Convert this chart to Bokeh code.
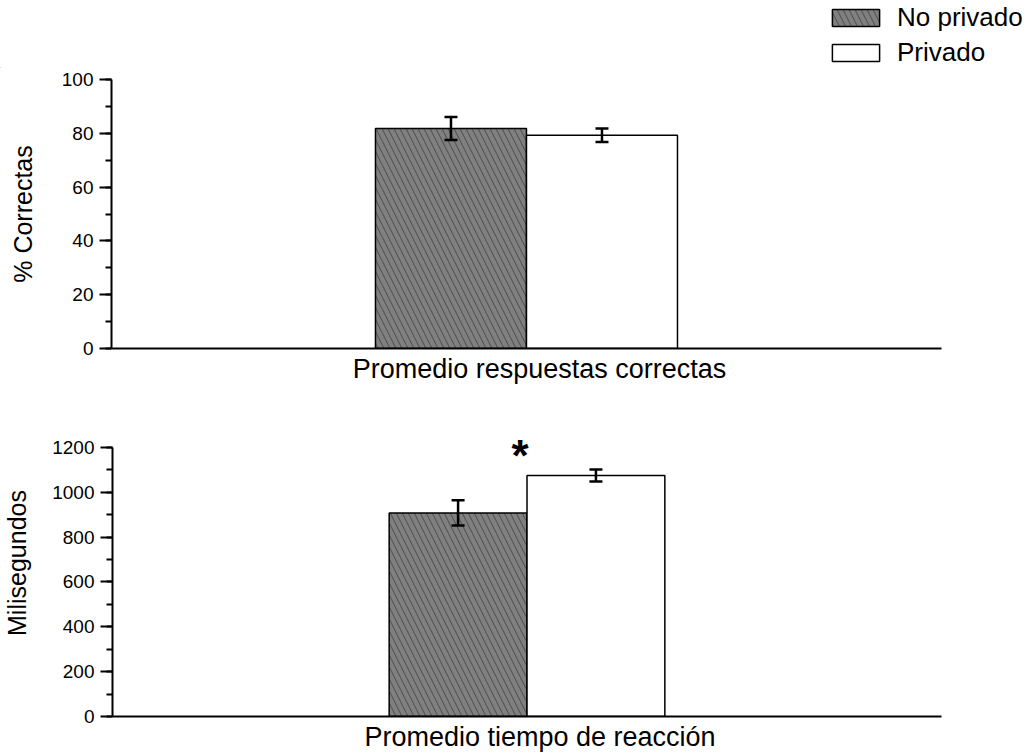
from bokeh.plotting import figure
from bokeh.layouts import column
from bokeh.models import (ColumnDataSource, Range1d, SingleIntervalTicker, FixedTicker,
                          Whisker, TeeHead, Legend, LegendItem)
from bokeh.core.properties import value
from bokeh.embed import file_html
from bokeh.resources import INLINE

# ---- data ----
groups = ["No privado", "Privado"]
correct_mean = [81.8, 79.3]        # % correct answers
correct_err = [4.3, 2.5]
rt_mean = [908, 1075]              # reaction time, ms
rt_err = [56, 27]

FONT = "Liberation Sans"
DARK = "#808080"
HATCH = "#555555"
W = 1029


def make_source(means, errs):
    return ColumnDataSource(dict(
        x=[0, 1],
        top=means,
        upper=[m + e for m, e in zip(means, errs)],
        lower=[m - e for m, e in zip(means, errs)],
        fill=[DARK, "white"],
        hatch=["\\", " "],
        group=groups,
    ))


BAR_STYLE = dict(fill_color="fill", line_color="black", line_width=1.5,
                 hatch_pattern="hatch", hatch_color=HATCH, hatch_scale=12,
                 hatch_weight=1.1)


def style_panel(p, y_label, x_label, y_standoff, y_bounds, x_bounds):
    p.xgrid.visible = False
    p.ygrid.visible = False
    p.outline_line_color = None

    ya = p.yaxis[0]
    ya.bounds = y_bounds
    ya.axis_label = y_label
    ya.axis_label_text_font = FONT
    ya.axis_label_text_font_style = "normal"
    ya.axis_label_text_font_size = "25px"
    ya.axis_label_text_color = "black"
    ya.axis_label_standoff = y_standoff
    ya.major_label_text_font = FONT
    ya.major_label_text_font_size = "19px"
    ya.major_label_text_color = "black"
    ya.major_label_standoff = 6
    ya.axis_line_width = 2
    ya.major_tick_line_width = 2
    ya.minor_tick_line_width = 2
    ya.major_tick_in = 0
    ya.major_tick_out = 12
    ya.minor_tick_in = 0
    ya.minor_tick_out = 6

    xa = p.xaxis[0]
    xa.bounds = x_bounds
    xa.ticker = FixedTicker(ticks=[])
    xa.axis_label = x_label
    xa.axis_label_text_font = FONT
    xa.axis_label_text_font_style = "normal"
    xa.axis_label_text_font_size = "27px"
    xa.axis_label_text_color = "black"
    xa.axis_label_standoff = 5
    xa.axis_line_width = 2
    xa.major_tick_out = 0
    xa.major_tick_in = 0
    xa.minor_tick_out = 0
    xa.minor_tick_in = 0


def draw_bars(p, src):
    r = p.vbar(x="x", top="top", bottom=0, width=1.0, source=src, **BAR_STYLE)
    head = dict(size=13, line_width=2.5, line_color="black")
    p.add_layout(Whisker(base="x", upper="upper", lower="lower", source=src,
                         line_width=2.5, line_color="black", level="overlay",
                         upper_head=TeeHead(**head), lower_head=TeeHead(**head)))
    return r


# ---- legend strip across the top ----
top_src = make_source(correct_mean, correct_err)
p0 = figure(width=W, height=68, output_backend="svg", toolbar_location=None,
            x_range=Range1d(500, 500 + W), y_range=Range1d(1000, 1068),
            x_axis_location=None, y_axis_location=None,
            min_border=0, frame_align=False)
p0.xgrid.visible = False
p0.ygrid.visible = False
p0.outline_line_color = None
# swatch renderers share the bar styling; they lie outside the strip's visible range
key = p0.vbar(x="x", top="top", bottom=0, width=1.0, source=top_src, **BAR_STYLE)
legend = Legend(items=[LegendItem(label=groups[0], renderers=[key], index=0),
                       LegendItem(label=groups[1], renderers=[key], index=1)],
                location=(826, 0),
                glyph_width=59, glyph_height=21, label_standoff=12,
                spacing=4, padding=0, margin=0,
                label_text_font=FONT, label_text_font_size="26px",
                label_text_color="black",
                border_line_color=None, background_fill_alpha=0)
p0.add_layout(legend)

# ---- top panel: correct answers ----
p1 = figure(width=W, height=332, output_backend="svg", toolbar_location=None,
            x_range=Range1d(-2.248, 3.4205), y_range=Range1d(0, 100),
            min_border_left=111, min_border_right=62, min_border_top=11,
            min_border_bottom=52, frame_align=False)
p1.yaxis.ticker = SingleIntervalTicker(interval=20, num_minor_ticks=2)
style_panel(p1, "% Correctas", "Promedio respuestas correctas", 22,
            (0, 100), (-2.248, 3.248))
draw_bars(p1, top_src)

# ---- bottom panel: reaction time ----
rt_src = make_source(rt_mean, rt_err)
p2 = figure(width=W, height=354, output_backend="svg", toolbar_location=None,
            x_range=Range1d(-2.5072, 3.6957), y_range=Range1d(0, 1369),
            min_border_left=111, min_border_right=62, min_border_top=9,
            min_border_bottom=37, frame_align=False)
p2.yaxis.ticker = SingleIntervalTicker(interval=200, num_minor_ticks=2)
style_panel(p2, "Milisegundos", "Promedio tiempo de reacción", 18,
            (0, 1200), (-2.5072, 3.5072))
draw_bars(p2, rt_src)

# significance mark between the two reaction-time bars
p2.text(x=[0.45], y=[1164], text=["*"], text_font=value(FONT),
        text_font_size="44px", text_font_style="bold", text_color="black",
        text_align="center", text_baseline="alphabetic")

layout = column(p0, p1, p2, spacing=0)
open("out.html", "w").write(file_html(layout, INLINE))
